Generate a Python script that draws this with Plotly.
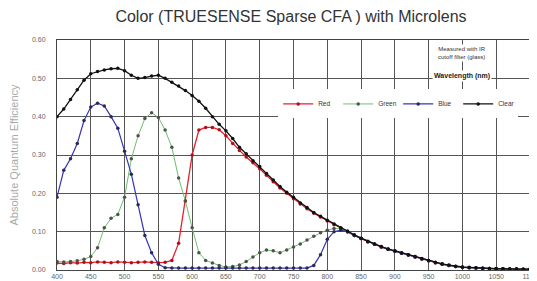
import plotly.graph_objects as go

wavelength = list(range(400, 1101, 10))

clear = [0.40, 0.42, 0.445, 0.47, 0.495, 0.512, 0.518, 0.522, 0.525, 0.526,
         0.52, 0.508, 0.50, 0.502, 0.506, 0.508, 0.50, 0.49, 0.48, 0.468,
         0.455, 0.44, 0.422, 0.40, 0.38, 0.363, 0.343, 0.32, 0.303, 0.285,
         0.27, 0.252, 0.235, 0.218, 0.203, 0.19, 0.175, 0.163, 0.15, 0.14,
         0.13, 0.12, 0.11, 0.102, 0.092, 0.083, 0.075, 0.068, 0.061, 0.055,
         0.05, 0.045, 0.04, 0.035, 0.03, 0.025, 0.02, 0.016, 0.013, 0.01,
         0.008, 0.007, 0.006, 0.005, 0.004, 0.004, 0.003, 0.003, 0.003, 0.002,
         0.002]

red = [0.018, 0.017, 0.019, 0.018, 0.02, 0.019, 0.021, 0.02, 0.019, 0.021,
       0.02, 0.019, 0.02, 0.021, 0.02, 0.019, 0.02, 0.025, 0.07, 0.18,
       0.30, 0.365, 0.372, 0.372, 0.366, 0.35, 0.33, 0.312, 0.295, 0.28,
       0.264, 0.247, 0.23, 0.214, 0.2, 0.186, 0.172, 0.16, 0.148, 0.138,
       0.128, 0.118, 0.108, 0.1, 0.09, 0.082, 0.074, 0.067, 0.06, 0.054,
       0.049, 0.044, 0.039, 0.034, 0.029, 0.024, 0.019, 0.015, 0.012, 0.009,
       0.007, 0.006, 0.005, 0.004, 0.004, 0.003, 0.003, 0.002, 0.002, 0.002,
       0.002]

green = [0.022, 0.021, 0.022, 0.024, 0.028, 0.035, 0.058, 0.11, 0.135, 0.145,
         0.19, 0.29, 0.35, 0.395, 0.41, 0.398, 0.365, 0.32, 0.24, 0.18,
         0.11, 0.045, 0.025, 0.018, 0.012, 0.008, 0.009, 0.013, 0.022, 0.034,
         0.045, 0.052, 0.05, 0.045, 0.052, 0.06, 0.068, 0.078, 0.088, 0.097,
         0.104, 0.108, 0.108, 0.1, 0.09, 0.082, 0.074, 0.067, 0.06, 0.054,
         0.049, 0.044, 0.039, 0.034, 0.029, 0.024, 0.019, 0.015, 0.012, 0.009,
         0.007, 0.006, 0.005, 0.004, 0.004, 0.003, 0.003, 0.002, 0.002, 0.002,
         0.002]

blue = [0.19, 0.26, 0.29, 0.33, 0.39, 0.425, 0.435, 0.428, 0.40, 0.37,
        0.31, 0.25, 0.17, 0.09, 0.045, 0.015, 0.006, 0.005, 0.005, 0.005,
        0.005, 0.005, 0.005, 0.005, 0.005, 0.005, 0.005, 0.005, 0.005, 0.005,
        0.005, 0.005, 0.005, 0.005, 0.005, 0.005, 0.005, 0.005, 0.012, 0.04,
        0.08, 0.10, 0.104, 0.1, 0.09, 0.082, 0.074, 0.067, 0.06, 0.054,
        0.049, 0.044, 0.039, 0.034, 0.029, 0.024, 0.019, 0.015, 0.012, 0.009,
        0.007, 0.006, 0.005, 0.004, 0.004, 0.003, 0.003, 0.002, 0.002, 0.002,
        0.002]

x_ticks = list(range(400, 1101, 50))
x_tick_labels = [str(v) for v in x_ticks]
y_ticks = [0.0, 0.1, 0.2, 0.3, 0.4, 0.5, 0.6]
y_tick_labels = ["0.00", "0.10", "0.20", "0.30", "0.40", "0.50", "0.60"]

series = [
    ("Red", red, "#e8202a", "#b0101a", 1.3),
    ("Green", green, "#6cbf6c", "#505050", 1.0),
    ("Blue", blue, "#3535b8", "#2a2a50", 1.2),
    ("Clear", clear, "#111111", "#111111", 1.3),
]

fig = go.Figure()
for name, vals, lc, mc, lw in series:
    fig.add_trace(go.Scatter(
        x=wavelength, y=vals, name=name, mode="lines+markers",
        line=dict(color=lc, width=lw),
        marker=dict(color=mc, size=3.5, symbol="circle"),
    ))

# page body has an 8px margin, so the figure is sized to fit inside the window
fig.update_layout(
    width=529, height=273,
    margin=dict(l=49, r=7, t=32, b=11, autoexpand=False),
    paper_bgcolor="white", plot_bgcolor="white",
    font=dict(family="Liberation Sans, Arial, sans-serif", color="#666"),
    title=dict(text="Color (TRUESENSE Sparse CFA ) with Microlens",
               x=0.535, xanchor="center", y=0.968, yanchor="middle",
               font=dict(size=16, color="#333")),
    showlegend=True,
    legend=dict(orientation="h", x=0.975, xanchor="right", y=0.722, yanchor="middle",
                bgcolor="white", font=dict(size=6.5, color="#333"),
                itemwidth=30, tracegroupgap=0, entrywidth=15, entrywidthmode="pixels"),
    xaxis=dict(range=[400, 1100], tickvals=x_ticks, ticktext=x_tick_labels,
               showgrid=True, gridcolor="#555", gridwidth=1,
               showline=True, linecolor="#444", mirror=True, zeroline=False,
               tickfont=dict(size=7, color="#666"), ticks="", automargin=False,
               ticklabeloverflow="allow"),
    yaxis=dict(range=[0, 0.6], tickvals=y_ticks, ticktext=y_tick_labels,
               showgrid=True, gridcolor="#555", gridwidth=1,
               showline=True, linecolor="#444", mirror=True, zeroline=False,
               tickfont=dict(size=7, color="#666"), ticks="", automargin=False,
               ticklabelstandoff=9,
               title=dict(text="Absolute Quantum Efficiency",
                          font=dict(size=11, color="#aaa"), standoff=12)),
)

fig.add_annotation(text="Measured with IR<br>cutoff filter (glass)",
                   xref="paper", yref="paper", x=0.856, y=0.943,
                   xanchor="center", yanchor="middle",
                   showarrow=False, bgcolor="white",
                   font=dict(size=6, color="#333"))
fig.add_annotation(text="<b>Wavelength (nm)</b>",
                   xref="paper", yref="paper", x=0.856, y=0.843,
                   xanchor="center", yanchor="middle",
                   showarrow=False, bgcolor="white",
                   font=dict(size=7, color="#222"))

fig.write_html("out.html")
